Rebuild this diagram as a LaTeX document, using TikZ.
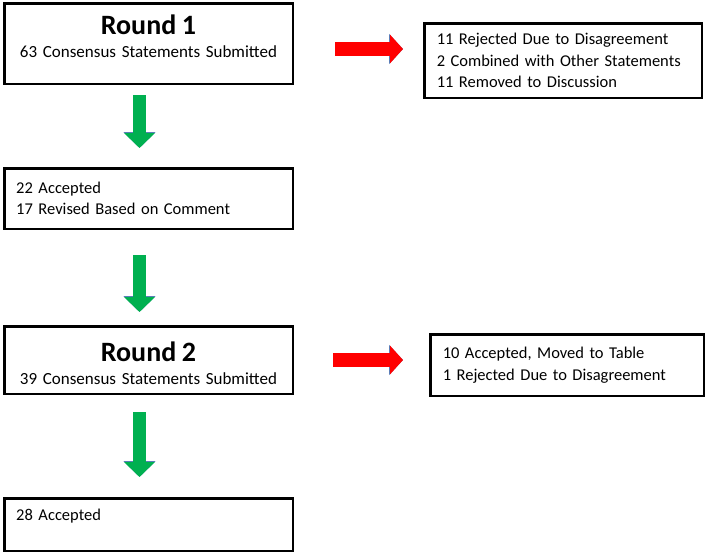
\documentclass[tikz,border=0pt]{standalone}
\usepackage{fontspec}
\setmainfont{Carlito}
\usetikzlibrary{arrows.meta,calc}
\definecolor{arrowred}{HTML}{FF0000}
\definecolor{arrowgreen}{HTML}{00B050}
\definecolor{arrowedge}{HTML}{5B7DB8}
\newcommand{\bodysize}{\fontsize{16.5}{21.5}\selectfont}
\newcommand{\subsize}{\fontsize{17}{21.5}\selectfont}
\newcommand{\titlesize}{\fontsize{28}{28}\selectfont\bfseries}

\begin{document}
\begin{tikzpicture}[x=1pt, y=-1pt,
    every node/.style={font=\bodysize},
    listbox/.style={draw=black, line width=2.5pt, inner xsep=12pt,
      minimum width=288.5pt, text width=264.5pt, align=left},
    roundbox/.style={listbox, align=center, font=\subsize},
    sidebox/.style={listbox, inner xsep=12.5pt},
    downarrow/.style={arrowgreen, line width=12.5pt,
      -{Triangle[width=30pt,length=15pt]},
      preaction={draw=arrowedge, line width=13.5pt,
        -{Triangle[width=31.5pt,length=16pt]}}},
    sidearrow/.style={arrowred, line width=13.5pt,
      -{Triangle[width=28pt,length=13pt]},
      preaction={draw=arrowedge, line width=14.5pt,
        -{Triangle[width=29.5pt,length=14pt]}}}]
  \useasboundingbox (0,0) rectangle (709,555);
  % rounds and what was kept
  \node[roundbox, minimum height=80.5pt, text depth=37.5pt] (r1) at (148.5,43.5)
    {{\titlesize Round 1}\\[1.5pt] 63 Consensus Statements Submitted};
  \node[listbox, minimum height=60.5pt] (acc1) at (148.5,198.5)
    {22 Accepted\\17 Revised Based on Comment};
  \node[roundbox, minimum height=67.5pt, text depth=17.5pt] (r2) at (148.5,360)
    {{\titlesize Round 2}\\[1.5pt] 39 Consensus Statements Submitted};
  \node[listbox, minimum height=52.5pt, text depth=20pt] (acc2) at (148.5,524.5)
    {28 Accepted};
  % what was dropped
  \node[sidebox, minimum width=277.5pt, text width=252.5pt,
        minimum height=74.5pt] (rej1) at (563,60.5)
    {11 Rejected Due to Disagreement\\2 Combined with Other Statements\\11 Removed to Discussion};
  \node[sidebox, minimum width=273.5pt, text width=248.5pt,
        minimum height=61.5pt] (rej2) at (567,365)
    {10 Accepted, Moved to Table\\1 Rejected Due to Disagreement};
  % arrows
  \draw[downarrow, shorten <=10pt, shorten >=19pt]
    ([xshift=-9pt]r1.south) -- ([xshift=-9pt]acc1.north);
  \draw[downarrow, shorten <=25pt, shorten >=13pt]
    ([xshift=-9pt]acc1.south) -- ([xshift=-9pt]r2.north);
  \draw[downarrow, shorten <=17pt, shorten >=20pt]
    ([xshift=-9pt]r2.south) -- ([xshift=-9pt]acc2.north);
  \coordinate (m1) at ([yshift=-5.5pt]r1.east);
  \draw[sidearrow, shorten <=41pt, shorten >=20pt] (m1) -- (m1 -| rej1.west);
  \draw[sidearrow, shorten <=39pt, shorten >=26pt] (r2.east) -- (r2.east -| rej2.west);
\end{tikzpicture}
\end{document}
